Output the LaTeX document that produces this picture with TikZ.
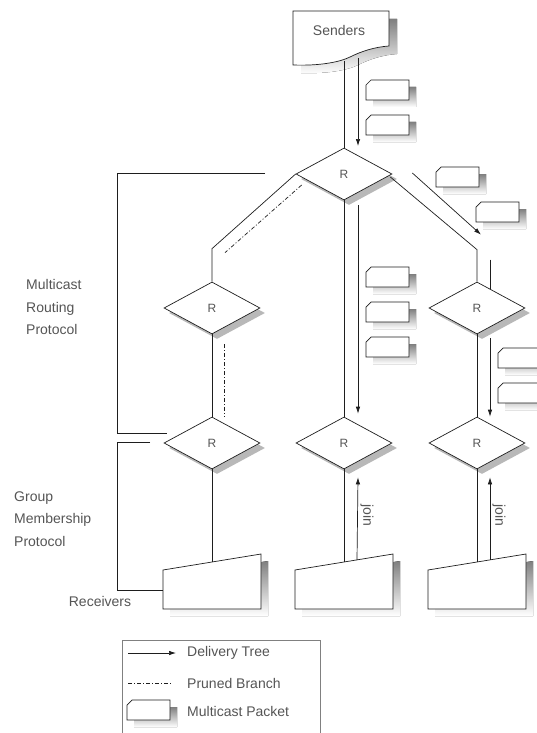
\documentclass[tikz,border=0pt]{standalone}
\usepackage{fontspec}
\setmainfont{Liberation Sans}
\usetikzlibrary{shapes.geometric,arrows.meta,shadows,calc}
\definecolor{ink}{HTML}{1E1E1E}
\definecolor{txt}{HTML}{555555}
\definecolor{shade}{HTML}{B8B8B8}

\begin{document}
\begin{tikzpicture}[x=1pt,y=-1pt,
  wire/.style={draw=ink,line width=0.7pt},
  tree/.style={wire,-{Latex[length=7pt,width=4.5pt]}},
  pruned/.style={wire,dash pattern=on 4pt off 2pt on 1pt off 2pt},
  router/.style={diamond,draw=ink,line width=0.7pt,fill=white,
    minimum width=96pt,minimum height=52pt,inner sep=0pt,text=txt,
    font=\fontsize{12}{14}\selectfont,
    drop shadow={shadow xshift=5pt,shadow yshift=-5pt,fill=shade,opacity=1}},
  lbl/.style={text=txt,font=\fontsize{14}{22.5}\selectfont,align=left,inner sep=0pt},
  packet/.pic={
    \fill[shade] (12,7) -- (50,7) -- (50,27) -- (7,27) -- (7,12) -- cycle;
    \draw[wire,fill=white] (5,0) -- (43,0) -- (43,20) -- (0,20) -- (0,5) -- cycle;
  },
  receiver/.pic={
    \fill[shade] (7,23) -- (105,7) -- (105,62) -- (7,62) -- cycle;
    \draw[wire,fill=white] (0,16) -- (98,0) -- (98,55) -- (0,55) -- cycle;
    \coordinate (-top) at (49,8);
    \coordinate (-join) at (62,6);
    \coordinate (-left) at (0,36);
  }
]
\useasboundingbox (0,0) rectangle (537,733);
\fill[white] (0,0) rectangle (537,733);

% senders document shape
\fill[shade] (301,19) -- (397,19) -- (397,54)
  .. controls (383,55) and (370,59) .. (358,65)
  .. controls (348,70) and (328,74) .. (301,73) -- cycle;
\draw[wire,fill=white] (293,11) -- (389,11) -- (389,46)
  .. controls (375,47) and (362,51) .. (350,57)
  .. controls (340,62) and (320,66) .. (293,65) -- cycle;
\node[lbl] (snd) at (339,30) {Senders};
\coordinate (sndA) at (344,61);
\coordinate (sndB) at (358,58);

% routers
\node[router] (R0) at (344,174) {R};
\node[router] (R1) at (212,308) {R};
\node[router] (R2) at (477,308) {R};
\node[router] (R3) at (212,443) {R};
\node[router] (R4) at (344,443) {R};
\node[router] (R5) at (477,443) {R};

% receivers
\pic (rc1) at (163,554) {receiver};
\pic (rc2) at (295,554) {receiver};
\pic (rc3) at (428,554) {receiver};

% packets in flight
\pic (pk1) at (366,80) {packet};
\pic (pk2) at (366,115) {packet};
\pic (pk3) at (436,167) {packet};
\pic (pk4) at (476,202) {packet};
\pic (pk5) at (366,267) {packet};
\pic (pk6) at (366,302) {packet};
\pic (pk7) at (366,337) {packet};
\pic (pk8) at (498,348) {packet};
\pic (pk9) at (498,383) {packet};

% distribution tree
\draw[wire] (sndA) -- (R0.north);
\draw[tree] (sndB) -- ++(0,88);

\draw[wire] (R0.west) -- ($(R1.north)+(0,-33)$) -- (R1.north);
\draw[pruned] ($(R0.west)+(6,11)$) -- ($(R1.north)+(13,-29)$);
\draw[pruned] ($(R1.south)+(12,10)$) -- ($(R3.north)+(12,0)$);

\draw[wire] ($(R0.east)+(-2,3)$) -- ($(R2.north)+(0,-32)$) -- (R2.north);
\draw[tree] ($(R0.east)+(20,-1)$) -- ($(R2.north)+(4,-47)$);
\draw[wire] ($(R2.north)+(13,-22)$) -- ($(R2.north)+(13,7)$);
\draw[tree] ($(R2.south)+(13,4)$) -- ($(R5.north)+(13,0)$);

\draw[wire] (R0.south) -- (R4.north);
\draw[tree] ($(R0.south)+(14,5)$) -- ($(R4.north)+(14,-3)$);

\draw[wire] (R1.south) -- (R3.north);
\draw[wire] (R2.south) -- (R5.north);

\draw[wire] (R3.south) -- (rc1-top);
\draw[wire] (R4.south) -- (rc2-top);
\draw[wire] (R5.south) -- (rc3-top);
\draw[tree] (rc2-join) -- ($(R4.south)+(14,8)$);
\draw[tree] (rc3-join) -- ($(R5.south)+(13,8)$);
\node[lbl,rotate=-90] (j1) at (367,515) {join};
\node[lbl,rotate=-90] (j2) at (499,515) {join};

% protocol brackets
\coordinate (bkA) at (265,173);
\coordinate (bkB) at (167,433);
\coordinate (bkC) at (150,442);
\draw[wire] (bkA) -| (117,433) -- (bkB);
\draw[wire] (bkC) -| (117,590) -- (rc1-left);

\node[lbl,anchor=west] (mrp) at (26,307) {Multicast\\Routing\\Protocol};
\node[lbl,anchor=west] (gmp) at (14,519) {Group\\Membership\\Protocol};
\node[lbl] (rcv) at (100,601) {Receivers};

% legend
\draw[wire,draw=gray] (122,745) -- (122,640) -- (320,640) -- (320,745);
\coordinate (lgA) at (128,653);
\coordinate (lgB) at (176,653);
\coordinate (lgC) at (128,683);
\coordinate (lgD) at (172,683);
\draw[tree] (lgA) -- (lgB);
\draw[pruned] (lgC) -- (lgD);
\pic (lgP) at (127,700) {packet};
\node[lbl,anchor=west] (lg1) at (187,653) {Delivery Tree};
\node[lbl,anchor=west] (lg2) at (187,683) {Pruned Branch};
\node[lbl,anchor=west] (lg3) at (187,711) {Multicast Packet};
\end{tikzpicture}
\end{document}
